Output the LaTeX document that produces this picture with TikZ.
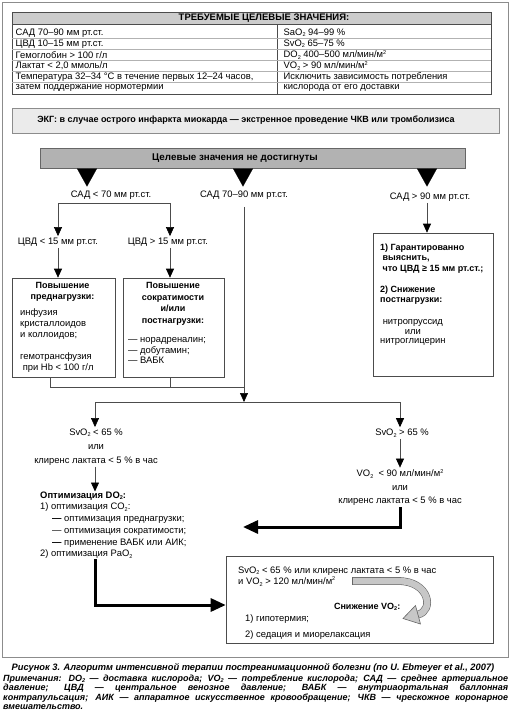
\documentclass[tikz,border=0pt]{standalone}
\usepackage{fontspec}
\setmainfont{Liberation Sans}
\usetikzlibrary{arrows.meta}
\newcommand{\sbtwo}{\raisebox{-1.6pt}{\fontsize{5.5}{5.5}\selectfont 2}}
\newcommand{\msq}{м\raisebox{3.6pt}{\fontsize{5.5}{5.5}\selectfont 2}}
\newcommand{\rgf}[1]{\fontsize{9.4}{#1}\selectfont}
\begin{document}
\begin{tikzpicture}[x=1pt,y=-1pt,
  every node/.style={inner sep=1.5pt, font=\rgf{11}},
  bf/.style={font=\fontsize{9}{11}\selectfont\bfseries},
  ln/.style={draw=black!70, line width=0.6pt},
  arr/.style={ln, -{Triangle[width=8pt,length=9pt,color=black]}},
  arrboth/.style={ln, {Triangle[width=8pt,length=9pt,color=black]}-{Triangle[width=8pt,length=9pt,color=black]}},
  bigarr/.style={draw=black, line width=3pt, -{Triangle[width=13pt,length=15pt]}},
  bigtri/.style={draw=black, line width=0.1pt, -{Triangle[width=20pt,length=18pt]}},
  frm/.style={draw=black!70, line width=0.6pt},
  rowline/.style={draw=black!30, line width=0.4pt},
  capf/.style={font=\fontsize{9.3}{9.5}\selectfont\bfseries\itshape},
  notef/.style={font=\fontsize{9}{9.5}\selectfont\bfseries\itshape},
]
\useasboundingbox (0,0) rectangle (510,713);
% outer frame
\draw[draw=black!45, line width=0.8pt] (2,2) rectangle (508,657);

% ---- table ----
\filldraw[fill=black!20, frm] (12,12) rectangle (491,24);
\draw[frm] (12,24) rectangle (491,94);
\draw[frm] (277,24) -- (277,94);
\foreach \yy in {38.5,49.5,60.5,71.5,82.5} \draw[rowline] (12,\yy) -- (491,\yy);
\node[font=\fontsize{9.5}{11}\selectfont\bfseries] (thdr) at (264,18) {ТРЕБУЕМЫЕ ЦЕЛЕВЫЕ ЗНАЧЕНИЯ:};
\node[anchor=west] (l1) at (14,32.7) {САД 70–90 мм рт.ст.};
\node[anchor=west] (l2) at (14,43.7) {ЦВД 10–15 мм рт.ст.};
\node[anchor=west] (l3) at (14,54.8) {Гемоглобин > 100 г/л};
\node[anchor=west] (l4) at (14,65.8) {Лактат < 2,0 ммоль/л};
\node[anchor=west] (l5) at (14,76.8) {Температура 32–34 °C в течение первых 12–24 часов,};
\node[anchor=west] (l6) at (14,87.8) {затем поддержание нормотермии};
\node[anchor=west] (r1) at (282,32.7) {SaO\sbtwo{} 94–99 \%};
\node[anchor=west] (r2) at (282,43.7) {SvO\sbtwo{} 65–75 \%};
\node[anchor=west] (r3) at (282,54.8) {DO\sbtwo{} 400–500 мл/мин/\msq};
\node[anchor=west] (r4) at (282,65.8) {VO\sbtwo{} > 90 мл/мин/\msq};
\node[anchor=west] (r5) at (282,76.8) {Исключить зависимость потребления};
\node[anchor=west] (r6) at (282,87.8) {кислорода от его доставки};

% ---- ECG box ----
\filldraw[fill=black!8, draw=black!45, line width=0.6pt] (12,108) rectangle (499,133);
\node[bf] (ecg) at (246,120.5) {ЭКГ: в случае острого инфаркта миокарда — экстренное проведение ЧКВ или тромболизиса};

% ---- target box ----
\node[fill=black!30, draw=black!60, line width=0.6pt, minimum width=425pt, minimum height=20pt, inner sep=0pt] (tgt) at (252.5,158.5) {};
\node[font=\fontsize{9.8}{11}\selectfont\bfseries] (tgttxt) at (235,158) {Целевые значения не достигнуты};
\coordinate (tr1) at (87,186.5);
\coordinate (tr2) at (243,186.5);
\coordinate (tr3) at (427,186.5);
\draw[bigtri] (tr1 |- tgt.south) -- (tr1);
\draw[bigtri] (tr2 |- tgt.south) -- (tr2);
\draw[bigtri] (tr3 |- tgt.south) -- (tr3);

% ---- SAD labels ----
\node (sad1) at (111,195) {САД < 70 мм рт.ст.};
\node (sad2) at (244,195) {САД 70–90 мм рт.ст.};
\node (sad3) at (430,197) {САД > 90 мм рт.ст.};

% ---- left branch ----
\coordinate (b1) at (58,203);
\coordinate (b2) at (170,203);
\node (cvd1) at (58,242) {ЦВД < 15 мм рт.ст.};
\node (cvd2) at (168,242) {ЦВД > 15 мм рт.ст.};
\draw[arrboth] (cvd1.north -| b1) -- (b1) -- (b2) -- (cvd2.north -| b2);

\node[frm, minimum width=103pt, minimum height=99pt, inner sep=0pt] (box1) at (63.5,327.5) {};
\node[frm, minimum width=101pt, minimum height=99pt, inner sep=0pt] (box2) at (173.5,327.5) {};
\draw[arr] (cvd1.south -| b1) -- (box1.north -| b1);
\draw[arr] (cvd2.south -| b2) -- (box2.north -| b2);

\node[bf, align=center, anchor=north, inner sep=0pt] (b1t) at (62.5,282) {Повышение\\преднагрузки:};
\node[align=left, anchor=north west, inner sep=0pt] (b1b) at (20,308) {инфузия\\кристаллоидов\\и коллоидов;\\[11pt]гемотрансфузия\\\ при Hb < 100 г/л};
\node[align=center, anchor=north, inner sep=0pt, font=\fontsize{9}{11.7}\selectfont\bfseries] (b2t) at (173,282) {Повышение\\сократимости\\и/или\\постнагрузки:};
\node[align=left, anchor=north west, inner sep=0pt, font=\rgf{10.3}] (b2b) at (128,337.5) {— норадреналин;\\— добутамин;\\— ВАБК};

% ---- right branch ----
\node[frm, minimum width=120pt, minimum height=143pt, inner sep=0pt] (box3) at (433,304.5) {};
\draw[arr] (sad3.south -| tr3) -- (box3.north -| tr3);
\node[align=left, anchor=north west, inner sep=0pt, font=\fontsize{9}{10.5}\selectfont\bfseries] (b3a) at (380,243.5) {1) Гарантированно\\\ выяснить,\\\ что ЦВД ≥ 15 мм рт.ст.;};
\node[align=left, anchor=north west, inner sep=0pt, font=\fontsize{9}{10.5}\selectfont\bfseries] (b3b) at (380,285.5) {2) Снижение\\постнагрузки:};
\node[align=center, anchor=north west, inner sep=0pt, font=\rgf{9.6}] (b3c) at (380,319.5) {нитропруссид\\или\\нитроглицерин};

% ---- merge and split ----
\coordinate (j1) at (50,387);
\coordinate (j2) at (170,387);
\coordinate (spl) at (244,402);
\draw[ln] (box1.south -| j1) -- (j1) -- (spl |- j1);
\draw[ln] (box2.south -| j2) -- (j2);
\draw[arr, shorten <=6pt] (sad2.south) -- (spl);

\node[align=center, font=\rgf{14}] (svo1) at (96,447) {SvO\sbtwo{} < 65 \%\\или\\клиренс лактата < 5 \% в час};
\node (svo2) at (402,433) {SvO\sbtwo{} > 65 \%};
\draw[arrboth] (svo1.north -| 95,0) -- (95,402) -- (400,402) -- (svo2.north -| 400,0);

\node[align=left, anchor=north west, inner sep=0pt, font=\rgf{11.7}] (opt) at (40,491.5) {\textbf{Оптимизация DO\sbtwo:}\\1) оптимизация CO\sbtwo:\\\hspace*{12pt}\textbf{—} оптимизация преднагрузки;\\\hspace*{12pt}— оптимизация сократимости;\\\hspace*{12pt}\textbf{—} применение ВАБК или АИК;\\2) оптимизация PaO\sbtwo};
\draw[arr] (svo1.south -| 95,0) -- (opt.north -| 95,0);

\node[align=center, font=\rgf{13.5}] (vo2) at (400,487.5) {VO\sbtwo{} \ < 90 мл/мин/\msq\\или\\клиренс лактата < 5 \% в час};
\draw[arr] (svo2.south -| 400,0) -- (vo2.north -| 400,0);

\coordinate (ta) at (243,527);
\draw[bigarr] (vo2.south -| 400,0) -- (400,527) -- (ta);

% ---- bottom box ----
\node[frm, minimum width=267pt, minimum height=87pt, inner sep=0pt] (box4) at (359.5,599.5) {};
\coordinate (tb) at (95,605);
\draw[bigarr] (opt.south -| tb) -- (tb) -- (tb -| box4.west);
\node[align=left, anchor=north west, inner sep=0pt, font=\rgf{11.3}] (b4a) at (238,566.5) {SvO\sbtwo{} < 65 \% или клиренс лактата < 5 \% в час\\и VO\sbtwo{} > 120 мл/мин/\msq};
\node[bf, anchor=east] (b4b) at (402,607) {Снижение VO\sbtwo:};
\node[align=left, anchor=north west, inner sep=0pt, font=\rgf{16}] (b4c) at (245,614) {1) гипотермия;\\2) седация и миорелаксация};
% curved hollow arrow
\draw[draw=black!60, line width=0.6pt, double=black!22, double distance=6.5pt]
  (352,581) -- (398,581) .. controls (430,581) and (434,611) .. (418,614.5);
\draw[draw=black!60, line width=0.6pt] (352,577.3) -- (352,584.7);
\filldraw[fill=black!22, draw=black!60, line width=0.6pt] (420.5,624) -- (403,618.5) -- (415.5,605.5) -- cycle;

% ---- caption ----
\node[capf] (cap) at (253,668) {Рисунок 3. Алгоритм интенсивной терапии постреанимационной болезни (по U. Ebmeyer et al., 2007)};
\node[notef, anchor=north west, inner sep=0pt, align=left] (notes) at (3,674.5) {%
\makebox[505pt][s]{Примечания: DO\sbtwo{} — доставка кислорода; VO\sbtwo{} — потребление кислорода; САД — среднее артериальное}\\
\makebox[505pt][s]{давление; ЦВД — центральное венозное давление; ВАБК — внутриаортальная баллонная}\\
\makebox[505pt][s]{контрапульсация; АИК — аппаратное искусственное кровообращение; ЧКВ — чрескожное коронарное}\\
вмешательство.};
\end{tikzpicture}
\end{document}
